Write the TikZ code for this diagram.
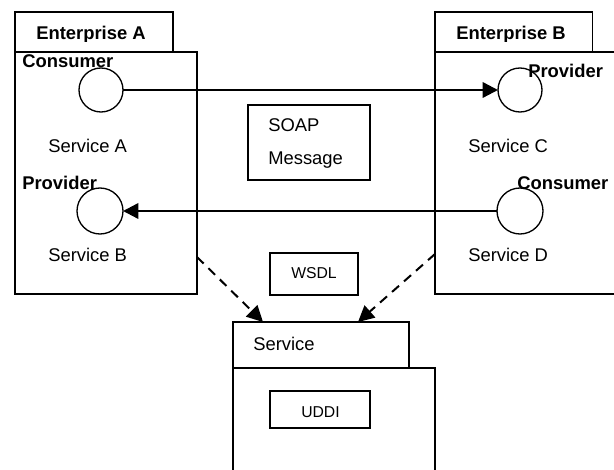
\documentclass[tikz,border=0pt]{standalone}
\usepackage{fontspec}
\setmainfont{Liberation Sans}
\usetikzlibrary{arrows.meta}
\tikzset{
  px/.style={x=0.75pt,y=-0.75pt},
  frame/.style={draw=black,line width=1pt,fill=white,anchor=north west,inner sep=0pt,outer sep=0pt},
  port/.style={circle,draw=black,line width=1pt,fill=white,inner sep=0pt,outer sep=0pt},
  lbl/.style={inner sep=0pt,anchor=base west,font=\fontsize{13.8pt}{16pt}\selectfont},
  blbl/.style={lbl,font=\fontsize{13.8pt}{16pt}\selectfont\bfseries},
  small/.style={inner sep=0pt,anchor=base west,font=\fontsize{11.8pt}{14pt}\selectfont},
  solidarrow/.style={line width=1.8pt,-{Triangle[length=11.5pt,width=11.5pt]}},
  dasharrow/.style={line width=1.5pt,dash pattern=on 7pt off 5pt,-{Triangle[length=12pt,width=12pt]}},
}
\begin{document}
\begin{tikzpicture}[px]
\useasboundingbox (0,0) rectangle (614,470);
\clip (0,0) rectangle (614,470);
% Enterprise A
\node[frame,minimum width=118.5pt,minimum height=30pt] (tabA) at (15,12) {};
\node[frame,minimum width=136.5pt,minimum height=181.5pt] (bodyA) at (15,52) {};
% Enterprise B
\node[frame,minimum width=118pt,minimum height=30pt] (tabB) at (435,12) {};
\node[frame,minimum width=160pt,minimum height=181.5pt] (bodyB) at (435,52) {};
% Service
\node[frame,minimum width=132pt,minimum height=34.5pt] (tabS) at (233,322) {};
\node[frame,minimum width=151.5pt,minimum height=100pt] (bodyS) at (233,368) {};
% Boxes
\node[frame,minimum width=91.5pt,minimum height=56.25pt] (soap) at (248,105) {};
\node[frame,minimum width=66pt,minimum height=31.5pt] (wsdl) at (270,253) {};
\node[frame,minimum width=75pt,minimum height=27.75pt] (uddi) at (270,391) {};
% Ports
\node[port,minimum size=33pt] (cA) at (101,90) {};
\node[port,minimum size=34.5pt] (pA) at (100,211) {};
\node[port,minimum size=33pt] (pC) at (520,90) {};
\node[port,minimum size=34.5pt] (cD) at (520,211) {};
% Connectors
\draw[solidarrow] (cA) -- (pC);
\draw[solidarrow] (cD) -- (pA);
\coordinate (sa) at (197,257);
\coordinate (sb) at (435,254);
\coordinate (ea) at (263,322);
\coordinate (eb) at (358,322);
\draw[dasharrow] (sa) -- (ea);
\draw[dasharrow] (sb) -- (eb);
% Text
\begin{scope}
\clip (0,0) rectangle (614,42);
\node[blbl] (t1) at (36,40) {Enterprise A};
\node[blbl] (t2) at (456,40) {Enterprise B};
\end{scope}
\node[blbl] (t3) at (22,68) {Consumer};
\node[blbl] (t4) at (22,190) {Provider};
\node[blbl] (t5) at (528,78) {Provider};
\node[blbl] (t6) at (517,190) {Consumer};
\node[lbl] (t7) at (48,153) {Service A};
\node[lbl] (t8) at (48,262) {Service B};
\node[lbl] (t9) at (468,153) {Service C};
\node[lbl] (t10) at (468,262) {Service D};
\node[lbl] (t11) at (268,132) {SOAP};
\node[lbl] (t12) at (268,165) {Message};
\node[small] (t13) at (291,279) {WSDL};
\node[lbl] (t14) at (253,350) {Service};
\node[small] (t15) at (301,417) {UDDI};
\end{tikzpicture}
\end{document}
